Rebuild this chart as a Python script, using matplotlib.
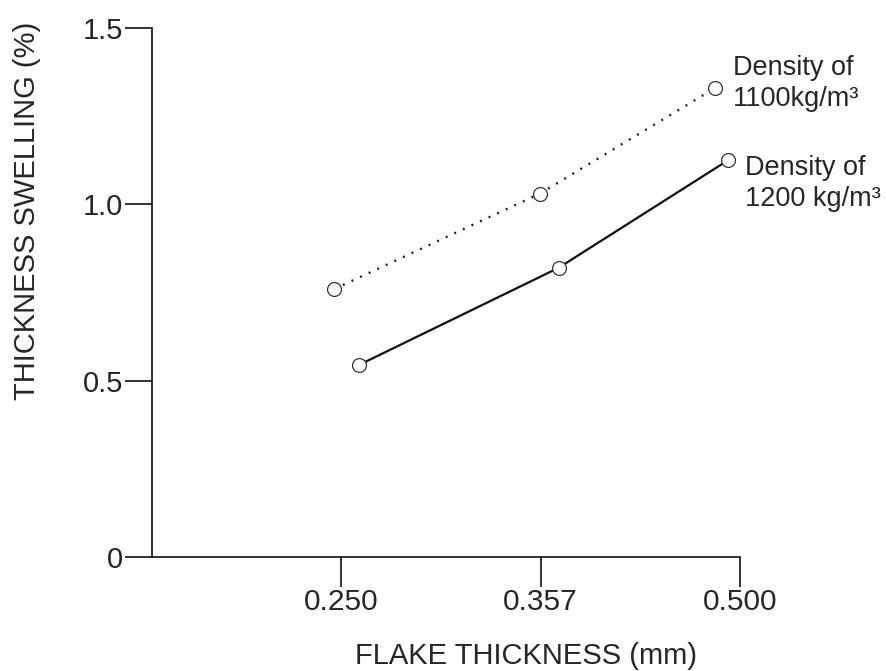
import matplotlib
matplotlib.use('Agg')
import matplotlib.pyplot as plt

# Datos: espesor de hojuela vs hinchamiento
espesores = ['0.250', '0.357', '0.500']
x_1100 = [-0.035, 0.995, 1.875]  # posiciones leídas sobre el eje de categorías
hinch_1100 = [0.76, 1.03, 1.33]
x_1200 = [0.09, 1.09, 1.94]
hinch_1200 = [0.545, 0.82, 1.125]
y_ticks = [0, 0.5, 1.0, 1.5]
y_labels = ['0', '0.5', '1.0', '1.5']

plt.rcParams['font.family'] = ['Liberation Sans', 'DejaVu Sans']
color_texto = '#262626'

fig = plt.figure(figsize=(8.87, 6.71), dpi=100)
ax = fig.add_axes([0.1714, 0.1699, 0.6629, 0.7884])

# Series
ax.plot(x_1100, hinch_1100, color='#1a1a1a', linewidth=1.7, dashes=(0.8, 3.2),
        marker='o', markersize=10, markerfacecolor='white',
        markeredgecolor='#333333', markeredgewidth=0.9)
ax.plot(x_1200, hinch_1200, color='#111111', linewidth=1.6,
        marker='o', markersize=10, markerfacecolor='white',
        markeredgecolor='#333333', markeredgewidth=0.9)

# Etiquetas de las series
ax.text(1.965, 1.422, 'Density of\n1100kg/m³', fontsize=19.5, color=color_texto,
        ha='left', va='top', clip_on=False, linespacing=1.25)
ax.text(2.025, 1.139, 'Density of\n1200 kg/m³', fontsize=19.5, color=color_texto,
        ha='left', va='top', clip_on=False, linespacing=1.25)

# Ejes
ax.set_xlim(-0.95, 2.0)
ax.set_ylim(0, 1.5)
ax.set_xticks(range(len(espesores)))
ax.set_xticklabels(espesores)
ax.set_yticks(y_ticks)
ax.set_yticklabels(y_labels)

for lado in ['top', 'right']:
    ax.spines[lado].set_visible(False)
for lado in ['left', 'bottom']:
    ax.spines[lado].set_linewidth(1.2)
    ax.spines[lado].set_color('#111111')

ax.tick_params(axis='y', length=19.4, width=1.2, pad=1.5, labelsize=21,
               labelcolor=color_texto, color='#111111')
ax.tick_params(axis='x', length=21.6, width=1.2, pad=0.5, labelsize=21.5,
               labelcolor=color_texto, color='#111111')

ax.set_xlabel('FLAKE THICKNESS (mm)', fontsize=21, color=color_texto)
ax.set_ylabel('THICKNESS SWELLING (%)', fontsize=21, color=color_texto)
ax.xaxis.set_label_coords(0.636, -0.16)
ax.yaxis.set_label_coords(-0.189, 0.654)

plt.savefig('out.png', dpi=100)
